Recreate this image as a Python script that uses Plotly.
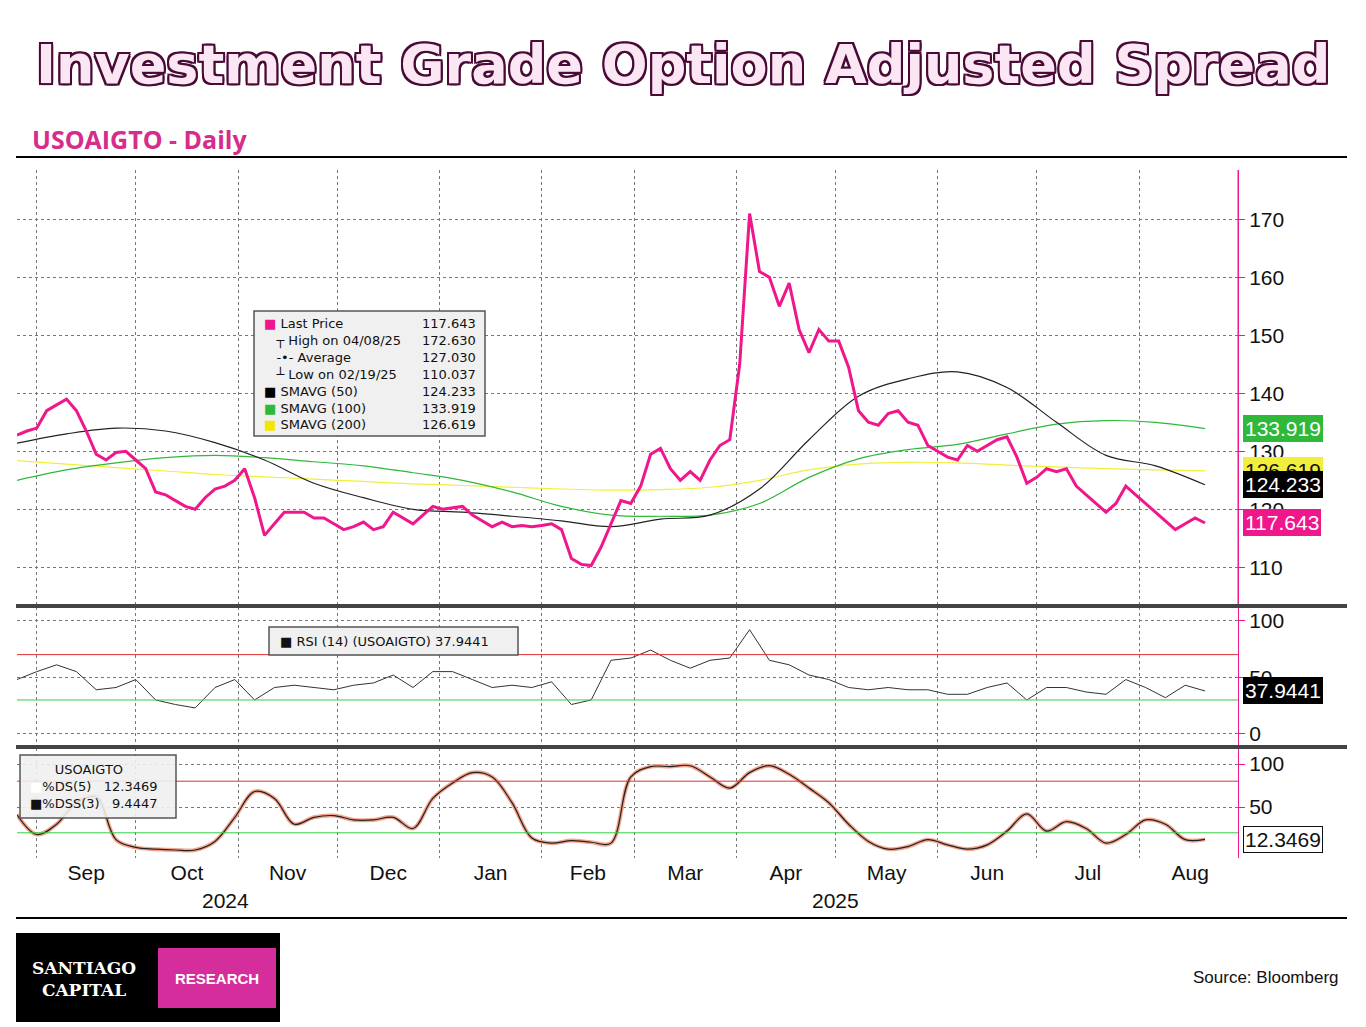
import pandas as pd
import plotly.graph_objects as go

# main series, one reading every 3 days from 2024-08-26
price = [132.8, 133.5, 134, 137, 138, 139, 137, 133.5, 129.5, 128.5, 129.8, 130, 128.5, 127, 123, 122.5,
         121.5, 120.5, 120, 122, 123.5, 124, 125, 127, 122, 115.5, 117.5, 119.5, 119.5, 119.5, 118.5, 118.5,
         117.5, 116.5, 117, 117.8, 116.5, 117, 119.5, 118.5, 117.5, 119, 120.5, 120, 120.2, 120.5, 119, 118,
         117, 117.8, 117, 117.2, 117, 117.2, 117.5, 116.5, 111.5, 110.5, 110.3, 113.5, 117.5, 121.5, 121, 124,
         129.5, 130.5, 127, 125, 126.5, 125, 128.5, 131, 132, 145, 171, 161, 160, 155, 159, 151, 147, 151,
         149, 149, 144.5, 137, 135, 134.5, 136.5, 137, 135, 134.5, 131, 130, 129, 128.5, 131, 130, 131, 132,
         132.5, 129, 124.5, 125.5, 127, 126.5, 127, 124, 122.5, 121, 119.5, 121, 124, 122.5, 121, 119.5, 118,
         116.5, 117.5, 118.5, 117.643]
price_dates = pd.date_range("2024-08-26", periods=len(price), freq="3D")

# moving averages, one reading every 15 days
sma50 = [131.4, 133, 134, 133.5, 131.5, 128.5, 124.5, 122, 120, 119.5, 118.8, 118, 117, 118.3, 119, 123.5,
         132, 139.5, 142.5, 143.7, 141, 135, 129.3, 127.5, 124.233]
sma100 = [125, 126.8, 128, 128.9, 129.3, 128.9, 128.2, 127.5, 126.3, 125, 123, 120.5, 119, 118.8, 119, 121,
          125.5, 128.7, 130.3, 131.2, 133, 134.7, 135.3, 135, 133.919]
sma200 = [128.4, 127.8, 127.2, 126.6, 126, 125.6, 125.2, 124.8, 124.4, 124.1, 123.8, 123.5, 123.3, 123.4,
          123.8, 125, 126.8, 127.8, 128.1, 128, 127.6, 127.3, 127, 126.8, 126.619]
sma_dates = pd.date_range("2024-08-26", periods=len(sma50), freq="15D")

# oscillators, one reading every 6 days
rsi = [48, 55, 61, 55, 39, 41, 48, 30, 26, 23, 41, 48, 30, 41, 43, 41, 39, 43, 45, 52, 41, 55, 55, 48, 41, 43,
       41, 46, 26, 30, 65, 67, 74, 65, 58, 65, 67, 92, 65, 61, 52, 48, 41, 39, 41, 39, 39, 35, 35, 41, 45, 30,
       41, 41, 37, 35, 48, 41, 32, 43, 37.9441]
stoch = [41, 18, 30, 55, 62, 12, 3, 1, 0, 0, 10, 38, 68, 60, 30, 38, 40, 35, 35, 38, 25, 60, 78, 90, 85, 55,
         14, 8, 11, 9, 8, 85, 97, 97, 98, 85, 72, 90, 98, 88, 72, 55, 30, 10, 1, 4, 12, 6, 1, 6, 22, 42, 22,
         33, 25, 8, 18, 35, 30, 12, 12.3469]
osc_dates = pd.date_range("2024-08-26", periods=len(rsi), freq="6D")

PINK = "#f0168c"
W, H = 1350, 1019
OX, OY = 8, 8


def px(x):
    return (x - OX) / W


def py(y):
    return 1 - (y - OY) / H


fig = go.Figure()
fig.add_trace(go.Scatter(x=sma_dates, y=sma200, line=dict(color="#f2ee3c", width=1.2, shape="spline"), xaxis="x", yaxis="y"))
fig.add_trace(go.Scatter(x=sma_dates, y=sma100, line=dict(color="#2fb83a", width=1.2, shape="spline"), xaxis="x", yaxis="y"))
fig.add_trace(go.Scatter(x=sma_dates, y=sma50, line=dict(color="#222", width=1.2, shape="spline"), xaxis="x", yaxis="y"))
fig.add_trace(go.Scatter(x=price_dates, y=price, line=dict(color=PINK, width=3), xaxis="x", yaxis="y"))
fig.add_trace(go.Scatter(x=osc_dates, y=rsi, line=dict(color="#333", width=1), xaxis="x2", yaxis="y2"))
fig.add_trace(go.Scatter(x=osc_dates, y=stoch, line=dict(color="#f4a48c", width=4, shape="spline"), xaxis="x3", yaxis="y3"))
fig.add_trace(go.Scatter(x=osc_dates, y=stoch, line=dict(color="#222", width=1.2, shape="spline"), xaxis="x3", yaxis="y3"))

xr = ["2024-08-26", "2025-08-31"]
xdom = [px(17), px(1238)]
grid = dict(showgrid=True, gridcolor="#777", griddash="dot", gridwidth=1)
xcommon = dict(range=xr, domain=xdom, dtick="M1", tick0="2024-09-01", showline=False, zeroline=False, **grid)
ycommon = dict(side="right", showline=True, linecolor=PINK, linewidth=1, ticks="outside", tickcolor=PINK,
               ticklen=6, zeroline=False, tickfont=dict(family="Arial", size=21, color="#111"), **grid)

fig.update_layout(
    width=W, height=H, margin=dict(l=0, r=0, t=0, b=0), showlegend=False,
    plot_bgcolor="white", paper_bgcolor="white",
    xaxis=dict(**xcommon, showticklabels=False, anchor="y"),
    xaxis2=dict(**xcommon, showticklabels=False, anchor="y2", matches="x"),
    xaxis3=dict(**xcommon, anchor="y3", matches="x", ticklabelmode="period", tickformat="%b",
                tickfont=dict(family="Arial", size=21, color="#111")),
    yaxis=dict(**ycommon, domain=[py(605), py(170)], range=[103.5, 178.5], dtick=10, anchor="x"),
    yaxis2=dict(**ycommon, domain=[py(746), py(607)], range=[-10.6, 112], tickvals=[0, 50, 100], anchor="x2"),
    yaxis3=dict(**ycommon, domain=[py(858), py(748)], range=[-9.3, 118.6], tickvals=[50, 100], anchor="x3"),
)

shapes = [
    dict(type="line", xref="paper", yref="paper", x0=px(16), x1=px(1347), y0=py(157), y1=py(157), line=dict(color="black", width=2)),
    dict(type="line", xref="paper", yref="paper", x0=px(1238), x1=px(1238), y0=py(170), y1=py(605), line=dict(color=PINK, width=1)),
    dict(type="line", xref="paper", yref="paper", x0=px(16), x1=px(1347), y0=py(918), y1=py(918), line=dict(color="black", width=2)),
    dict(type="line", xref="paper", yref="paper", x0=px(16), x1=px(1347), y0=py(606), y1=py(606), line=dict(color="#444", width=4)),
    dict(type="line", xref="paper", yref="paper", x0=px(16), x1=px(1347), y0=py(747), y1=py(747), line=dict(color="#444", width=4)),
    dict(type="line", xref="x2 domain", yref="y2", x0=0, x1=1, y0=70, y1=70, line=dict(color="#e03030", width=1)),
    dict(type="line", xref="x2 domain", yref="y2", x0=0, x1=1, y0=30, y1=30, line=dict(color="#30d040", width=1)),
    dict(type="line", xref="x3 domain", yref="y3", x0=0, x1=1, y0=80, y1=80, line=dict(color="#e03030", width=1)),
    dict(type="line", xref="x3 domain", yref="y3", x0=0, x1=1, y0=20, y1=20, line=dict(color="#30d040", width=1)),
    # legend boxes
    dict(type="rect", xref="paper", yref="paper", x0=px(254), x1=px(485), y0=py(436), y1=py(311),
         fillcolor="#f0f0f0", line=dict(color="#555", width=1.5)),
    dict(type="rect", xref="paper", yref="paper", x0=px(269), x1=px(518), y0=py(655), y1=py(627),
         fillcolor="#f0f0f0", line=dict(color="#555", width=1.5)),
    dict(type="rect", xref="paper", yref="paper", x0=px(20), x1=px(176), y0=py(818), y1=py(755),
         fillcolor="rgba(240,240,240,0.9)", line=dict(color="#555", width=1.5)),
    # logo
    dict(type="rect", xref="paper", yref="paper", x0=px(16), x1=px(280), y0=py(1022), y1=py(933),
         fillcolor="black", line=dict(width=0)),
    dict(type="rect", xref="paper", yref="paper", x0=px(158), x1=px(276), y0=py(1008), y1=py(948),
         fillcolor="#d62d9c", line=dict(width=0)),
]
fig.update_layout(shapes=shapes)

outline = ",".join(f"{dx}px {dy}px 0 #4a0a36" for dx in (-2, 0, 2) for dy in (-2, 0, 2) if dx or dy)
leg_font = dict(family="DejaVu Sans", size=13, color="#111")
ann = [
    dict(x=px(683), y=py(65), text="Investment Grade Option Adjusted Spread",
         font=dict(family="DejaVu Sans", size=54, color="#fbe6f3", weight="bold", shadow=outline)),
    dict(x=px(30), y=py(139), xanchor="left", text="<b>USOAIGTO - Daily</b>",
         font=dict(family="Open Sans", size=25, color="#d62d8c")),
    dict(x=px(262), y=py(374), xanchor="left", align="left", font=leg_font,
         text=("<span style='color:%s'>■</span> Last Price<br>&nbsp;&nbsp;&nbsp;┬ High on 04/08/25<br>"
               "&nbsp;&nbsp;&nbsp;-•- Average<br>&nbsp;&nbsp;&nbsp;┴ Low on 02/19/25<br>"
               "<span style='color:#000'>■</span> SMAVG (50)<br><span style='color:#2fb83a'>■</span> SMAVG (100)<br>"
               "<span style='color:#f2e600'>■</span> SMAVG (200)") % PINK),
    dict(x=px(478), y=py(374), xanchor="right", align="right", font=leg_font,
         text="117.643<br>172.630<br>127.030<br>110.037<br>124.233<br>133.919<br>126.619"),
    dict(x=px(278), y=py(641), xanchor="left", font=leg_font, text="■ RSI (14) (USOAIGTO) 37.9441"),
    dict(x=px(28), y=py(786), xanchor="left", align="left", font=leg_font,
         text="&nbsp;&nbsp;&nbsp;&nbsp;&nbsp;&nbsp;USOAIGTO<br><span style='color:#fff'>■</span>%DS(5)&nbsp;&nbsp;&nbsp;12.3469<br>■%DSS(3)&nbsp;&nbsp;&nbsp;9.4447"),
    dict(x=px(225), y=py(900), text="2024", font=dict(family="Arial", size=21, color="#111")),
    dict(x=px(836), y=py(900), text="2025", font=dict(family="Arial", size=21, color="#111")),
    dict(x=px(84), y=py(979), text="<b>SANTIAGO<br>CAPITAL</b>",
         font=dict(family="DejaVu Serif", size=17, color="white")),
    dict(x=px(217), y=py(978), text="<b>RESEARCH</b>", font=dict(family="Arial", size=15, color="white")),
    dict(x=px(1341), y=py(977), xanchor="right", text="Source: Bloomberg",
         font=dict(family="Arial", size=17, color="#111")),
]
tags = [(133.919, "#2fb83a", "white", "y"), (126.619, "#f2ee3c", "#111", "y"), (124.233, "black", "white", "y"),
        (117.643, PINK, "white", "y"), (37.9441, "black", "white", "y2"), (12.3469, "white", "#111", "y3")]
for v, bg, fg, ax in tags:
    ann.append(dict(x=px(1243), y=v, yref=ax, xanchor="left", text=f"{v:g}" if v != 37.9441 else "37.9441",
                    bgcolor=bg, bordercolor="#111" if bg == "white" else bg, borderpad=1,
                    font=dict(family="Arial", size=21, color=fg)))
for a in ann:
    a.setdefault("xref", "paper")
    a.setdefault("yref", "paper")
    a.setdefault("xanchor", "center")
    a["yanchor"] = "middle"
    a["showarrow"] = False
fig.update_layout(annotations=ann)

fig.write_html("out.html")
